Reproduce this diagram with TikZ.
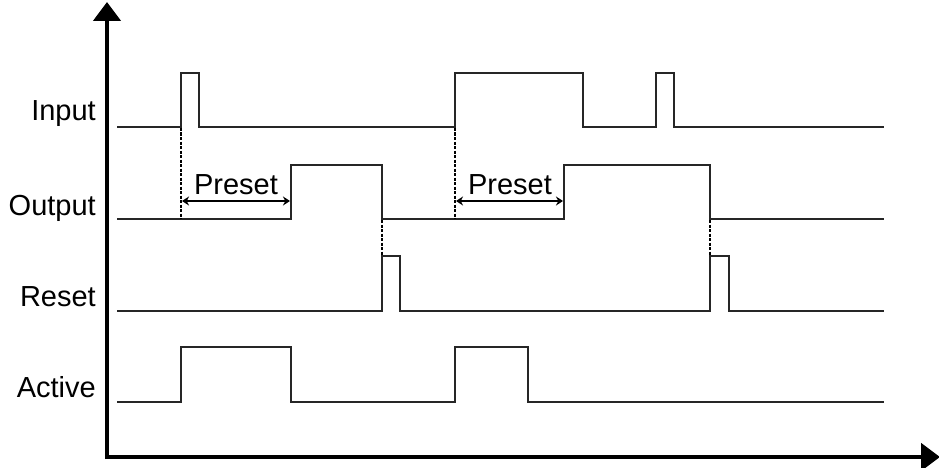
\documentclass[tikz,border=0pt]{standalone}
\usepackage{fontspec}
\setmainfont{Liberation Sans}
\usetikzlibrary{arrows.meta}
\begin{document}
\begin{tikzpicture}[x=1pt,y=-1pt,
  wave/.style={line width=2.4pt, line join=miter, black!85},
  axis/.style={line width=4.5pt, -{Triangle[length=19pt,width=27pt]}},
  sig/.style={anchor=east, font=\fontsize{29}{32}\selectfont, inner sep=0pt},
  plbl/.style={font=\fontsize{29}{32}\selectfont, inner sep=0pt},
  guide/.style={line width=1.3pt, dash pattern=on 3pt off 1.5pt},
  dim/.style={line width=2.6pt, {Stealth[length=7pt,width=9pt]}-{Stealth[length=7pt,width=9pt]}}]
\useasboundingbox (0,0) rectangle (939,468);
% axes
\coordinate (ytop) at (107,2);
\coordinate (xend) at (940,457);
\draw[axis] (107,459) -- (ytop);
\draw[axis] (105,457) -- (xend);
% labels
\node[sig] (lin) at (96,114) {Input};
\node[sig] (lout) at (96,208) {Output};
\node[sig] (lres) at (96,297) {Reset};
\node[sig] (lact) at (96,387) {Active};
% Input
\draw[wave] (117,127) -- (181,127) -- (181,73) -- (199,73) -- (199,127) -- (455,127) -- (455,73) -- (583,73) -- (583,127) -- (656,127) -- (656,73) -- (674,73) -- (674,127) -- (884,127);
% Output
\draw[wave] (117,219) -- (291,219) -- (291,165) -- (382,165) -- (382,219) -- (564,219) -- (564,165) -- (710,165) -- (710,219) -- (884,219);
% Reset
\draw[wave] (117,311) -- (382,311) -- (382,256) -- (400,256) -- (400,311) -- (710,311) -- (710,256) -- (729,256) -- (729,311) -- (884,311);
% Active
\draw[wave] (117,402) -- (181,402) -- (181,347) -- (291,347) -- (291,402) -- (455,402) -- (455,347) -- (528,347) -- (528,402) -- (884,402);
% guides
\coordinate (g1a) at (181,128); \coordinate (g1b) at (181,219);
\coordinate (g2a) at (455,128); \coordinate (g2b) at (455,219);
\coordinate (g3a) at (382,220); \coordinate (g3b) at (382,256);
\coordinate (g4a) at (710,220); \coordinate (g4b) at (710,256);
\draw[guide] (g1a) -- (g1b);
\draw[guide] (g2a) -- (g2b);
\draw[guide] (g3a) -- (g3b);
\draw[guide] (g4a) -- (g4b);
% preset arrows
\coordinate (p1a) at (182,201); \coordinate (p1b) at (290,201);
\coordinate (p2a) at (456,201); \coordinate (p2b) at (563,201);
\draw[dim] (p1a) -- (p1b);
\draw[dim] (p2a) -- (p2b);
\node[plbl] (pl1) at (236,185) {Preset};
\node[plbl] (pl2) at (510,185) {Preset};
\end{tikzpicture}
\end{document}
